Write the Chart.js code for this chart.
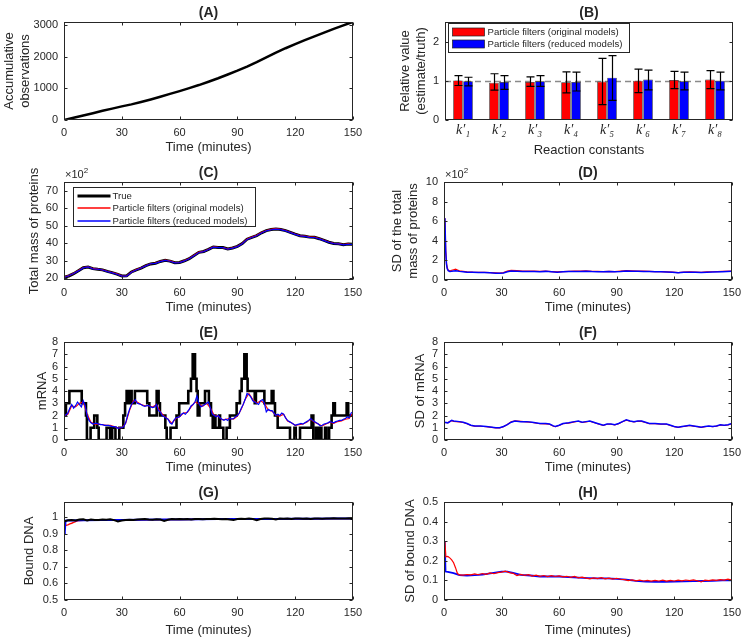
<!DOCTYPE html>
<html lang="en">
<head>
<meta charset="UTF-8" />
<title>Particle filter results</title>
<script src="https://cdn.jsdelivr.net/npm/chart.js@4.4.1/dist/chart.umd.min.js"></script>
<style>
  * { box-sizing: border-box; }
  body { margin: 0; background: #fff; }
  #fig { position: relative; width: 747px; height: 643px; background: #fff; }
  #fig canvas { position: absolute; }
</style>
</head>
<body>
<div id="fig">
  <canvas id="pA" width="373" height="160" style="left:0;top:0"></canvas>
  <canvas id="pB" width="374" height="160" style="left:373px;top:0"></canvas>
  <canvas id="pC" width="373" height="160" style="left:0;top:160px"></canvas>
  <canvas id="pD" width="374" height="160" style="left:373px;top:160px"></canvas>
  <canvas id="pE" width="373" height="160" style="left:0;top:320px"></canvas>
  <canvas id="pF" width="374" height="160" style="left:373px;top:320px"></canvas>
  <canvas id="pG" width="373" height="163" style="left:0;top:480px"></canvas>
  <canvas id="pH" width="374" height="163" style="left:373px;top:480px"></canvas>
</div>
<script>
// ---- data ----
const seriesNames = ['True', 'Particle filters (original models)', 'Particle filters (reduced models)'];
const timeTicks = [0, 30, 60, 90, 120, 150];

// (A) accumulative observations
const obsTime = [0,5,10,15,20,25,30,35,40,45,50,55,60,65,70,75,80,85,90,95,100,105,110,115,120,125,130,135,140,145,150];
const obsCount = [0,70,145,215,290,360,430,495,570,650,735,825,915,1010,1105,1210,1320,1440,1560,1690,1830,1980,2130,2270,2400,2525,2645,2765,2880,2995,3105];

// (B) relative reaction constants
const kLabels = ['k\u2032\u2081','k\u2032\u2082','k\u2032\u2083','k\u2032\u2084','k\u2032\u2085','k\u2032\u2086','k\u2032\u2087','k\u2032\u2088'];
const relOriginal = [1.01, 0.95, 0.97, 0.96, 0.98, 1.00, 1.02, 1.03];
const relOriginalLow = [0.88, 0.76, 0.86, 0.69, 0.39, 0.70, 0.80, 0.80];
const relOriginalHigh = [1.13, 1.18, 1.10, 1.23, 1.57, 1.30, 1.24, 1.26];
const relReduced = [0.99, 0.97, 0.99, 0.97, 1.08, 1.03, 0.99, 1.00];
const relReducedLow = [0.87, 0.78, 0.86, 0.74, 0.50, 0.77, 0.77, 0.77];
const relReducedHigh = [1.09, 1.13, 1.13, 1.22, 1.64, 1.27, 1.22, 1.22];

// (C) total mass of proteins (x10^2)
const proteinTime = [0,2.5,5,7.5,10,12.5,15,17.5,20,22.5, 25,27.5,30,32.5,35,37.5,40,42.5,45,47.5,
  50,52.5,55,57.5,60,62.5,65,67.5,70,72.5, 75,77.5,80,82.5,85,87.5,90,92.5,95,97.5,
  100,102.5,105,107.5,110,112.5,115,117.5,120,122.5, 125,127.5,130,132.5,135,137.5,140,142.5,145,147.5, 150];
const proteinTrue = [20.5,21.3,22.6,24.3,26.0,26.4,25.5,25.1,24.8,23.9, 23.2,22.4,21.3,21.4,23.6,24.8,25.8,27.2,28.2,28.6,
  29.6,30.3,29.8,28.9,29.0,30.0,31.2,33.0,34.8,35.3, 36.5,37.9,37.6,37.6,36.7,37.3,38.2,39.8,42.3,43.4,
  44.4,46.0,47.2,47.8,48.2,47.9,47.2,46.2,45.2,44.3, 44.0,43.5,43.4,42.6,41.6,40.6,39.9,39.7,39.2,39.5, 39.4];
const proteinOriginal = [20.6,21.5,22.8,24.4,26.1,26.5,25.6,25.2,24.8,24.0, 23.3,22.5,21.4,21.3,23.5,24.9,25.9,27.3,28.3,28.7,
  29.7,30.4,29.9,29.0,29.1,30.1,31.3,33.1,34.9,35.4, 36.6,38.0,37.7,37.5,36.8,37.4,38.3,39.9,42.4,43.5,
  44.5,46.1,47.3,47.9,48.3,48.0,47.3,46.3,45.3,44.4, 44.1,43.6,43.5,42.7,41.7,40.7,40.0,39.8,39.3,39.6, 39.5];
const proteinReduced = [20.4,21.4,22.7,24.2,25.9,26.5,25.4,25.2,24.7,23.8, 23.1,22.3,21.2,21.2,23.4,24.7,25.9,27.1,28.3,28.5,
  29.5,30.2,29.7,28.8,28.9,29.9,31.1,32.9,34.7,35.2, 36.4,37.8,37.5,37.5,36.6,37.2,38.1,39.7,42.2,43.3,
  44.3,45.9,47.1,47.7,48.1,47.8,47.1,46.1,45.1,44.2, 43.9,43.4,43.3,42.5,41.5,40.5,39.8,39.6,39.1,39.4, 39.3];

// (D) SD of total mass of proteins (x10^2)
const sdProteinTime = [0,0.5,0.9,1.3,1.7,2.2,3,4,5,6, 7,8,10,12,15,18,21,24,27,29, 31,33,35,38,41,44,47,50,53,56,
  59,62,65,68,71,74,77,80,83,86, 89,92,95,98,101,104,107,110,113,116, 119,122,125,128,131,134,137,140,145,150];
const sdProteinOriginal = [6.3,6.0,3.0,1.7,1.25,1.0,0.92,1.0,1.05,1.1, 1.02,0.93,0.88,0.83,0.8,0.79,0.78,0.76,0.72,0.7,
  0.75,0.9,0.98,0.95,0.92,0.9,0.9,0.88,0.9,0.86, 0.82,0.85,0.88,0.92,0.9,0.93,0.88,0.87,0.85,0.88,
  0.86,0.9,0.95,0.93,0.92,0.9,0.88,0.86,0.85,0.83, 0.8,0.76,0.8,0.82,0.8,0.78,0.82,0.84,0.87,0.92];
const sdProteinReduced = [6.3,6.0,2.9,1.6,1.15,0.95,0.88,0.9,0.93,0.95, 0.92,0.88,0.85,0.8,0.78,0.77,0.76,0.74,0.7,0.68,
  0.72,0.85,0.92,0.9,0.88,0.86,0.87,0.85,0.88,0.84, 0.8,0.83,0.86,0.88,0.87,0.9,0.86,0.85,0.83,0.86,
  0.84,0.87,0.92,0.9,0.89,0.88,0.86,0.85,0.84,0.82, 0.8,0.75,0.78,0.8,0.78,0.76,0.8,0.82,0.85,0.9];

// (E) mRNA: true copy number (step changes) and estimates
const mrnaStepTime = [0,1,2.8,9.2,11.4,11.9,13.8,15.7,17.3,18, 22.1,23.9,25,26.7,28.7,30.8,31.7,32.5,33.1,33.6,
  34.1,34.6,35.1,36.8,43.2,44.3,48.1,49.1,49.8,52.6, 53.3,55.3,58.4,59.8,64.5,65.9,66.8,68,68.8,69.4,
  70.3,73.2,75.2,76.3,77.2,78,78.6,80.5,81,82.7, 84.4,86.1,89.6,91.3,92.2,93.6,94.8,95.3,99,99.6,
  104,107.8,108.7,109.5,110.9,117.3,119.6,120.3,122.5,128.5, 129.4,130.8,131.5,132.8,133.6,135.5,136.2,137.6,138.9,139.8,
  140.6,146.7,147.5,150];
const mrnaTrue = [2,3,4,3,2,0,1,2,1,0, 1,0,1,0,1,2,3,4,3,4,
  3,4,3,4,3,2,4,3,2,1, 0,1,2,3,4,5,7,5,4,2,
  3,4,3,2,1,2,1,2,1,0, 1,2,3,4,5,7,5,4,3,4,
  3,4,3,2,1,0,1,0,1,2, 0,1,0,1,0,1,0,1,2,3,
  2,3,2,2];
const mrnaReducedTime = [0,1,2,3,4,5,6,7,8,9, 10,11,12,13,14,15,16,17,18,19, 20,21,22,23,24,25,26,27,28,29,
  30,31,32,33,34,35,36,37,38,39, 40,41,42,43,44,45,46,47,48,49, 50,51,52,53,54,55,56,57,58,59,
  60,61,62,63,64,65,66,67,68,69, 70,71,72,73,74,75,76,77,78,79, 80,81,82,83,84,85,86,87,88,89,
  90,91,92,93,94,95,96,97,98,99, 100,101,102,103,104,105,106,107,108,109, 110,111,112,113,114,115,116,117,118,119,
  120,121,122,123,124,125,126,127,128,129, 130,131,132,133,134,135,136,137,138,139, 140,141,142,143,144,145,146,147,148,149, 150];
const mrnaReduced = [2.0,2.05,2.2,2.6,2.9,2.6,2.8,3.1,2.9,2.7, 3.2,2.8,2.0,1.6,1.4,1.3,1.35,1.35,1.3,1.25,
  1.25,1.2,1.2,1.2,1.15,1.1,1.1,1.05,0.95,1.0, 1.0,1.1,1.4,2.0,2.5,2.9,3.1,3.3,3.0,2.95,
  2.9,2.8,2.75,2.8,2.8,2.7,2.65,2.7,2.9,2.4, 2.3,2.0,1.9,1.8,1.7,1.4,1.3,1.6,1.8,1.85,
  1.9,2.1,2.2,2.1,2.3,2.5,2.8,2.9,3.1,3.6, 3.0,2.7,2.8,2.9,3.0,3.1,2.6,2.1,2.0,1.9,
  2.0,1.8,1.7,1.6,1.7,1.6,1.8,1.7,1.75,1.9, 2.0,2.2,2.6,2.9,3.3,3.8,3.7,3.5,3.2,3.1,
  3.0,2.9,3.2,3.3,3.0,2.3,2.5,2.4,2.4,2.2, 2.0,2.1,2.0,2.2,2.1,1.8,1.6,1.5,1.4,1.3,
  1.2,1.25,1.3,1.35,1.3,1.4,1.5,1.6,1.75,1.6, 1.5,1.4,1.3,1.15,1.2,1.3,1.35,1.4,1.5,1.45,
  1.4,1.5,1.55,1.6,1.6,1.7,1.75,1.9,1.8,2.2, 2.3];
const mrnaOriginalTime = [0,2,4,6,8,10,12,14,16,18, 20,22,24,26,28,30,32,34,36,38, 40,42,44,46,48,50,52,54,56,58,
  60,62,64,66,68,70,72,74,76,78, 80,82,84,86,88,90,92,94,96,98, 100,102,104,106,108,110,112,114,116,118,
  120,122,124,126,128,130,132,134,136,138, 140,142,144,146,148,150];
const mrnaOriginal = [2.0,2.1,2.8,2.7,3.0,3.1,2.1,1.45,1.3,1.3, 1.25,1.2,1.2,1.1,1.0,1.0,1.35,2.4,3.2,3.1,
  2.9,2.8,2.8,2.7,2.9,2.3,1.95,1.7,1.35,1.75, 1.9,2.2,2.25,2.7,3.1,2.95,2.75,3.0,2.6,2.0,
  1.95,1.65,1.7,1.75,1.7,1.95,2.5,3.3,3.8,3.3, 3.0,3.2,3.0,2.45,2.35,2.0,1.95,2.1,1.55,1.4,
  1.2,1.25,1.3,1.45,1.7,1.45,1.3,1.15,1.3,1.45, 1.35,1.5,1.55,1.7,1.75,2.25];

// (F) SD of mRNA
const sdMrnaTime = [0,2,4,5,8,10,12,14,16,19, 22,25,27,29,31,33,35,37,40,43, 46,50,53,55,57,58,60,62,65,68,
  70,72,74,76,78,80,83,85,87,89, 91,93,95,97,99,101,103,105,107,110, 113,116,118,120,122,124,126,128,130,132,
  134,136,138,140,142,144,146,148,150];
const sdMrnaOriginal = [1.43,1.42,1.58,1.52,1.48,1.43,1.33,1.18,1.13,1.12, 1.08,1.03,0.98,0.98,1.08,1.27,1.48,1.57,1.52,1.48,
  1.43,1.33,1.32,1.28,1.12,1.08,1.18,1.33,1.38,1.48, 1.53,1.43,1.48,1.53,1.43,1.33,1.18,1.28,1.28,1.23,
  1.33,1.48,1.62,1.53,1.48,1.53,1.52,1.43,1.33,1.33, 1.28,1.28,1.18,1.08,1.03,1.08,1.13,1.18,1.13,1.08,
  1.03,1.08,1.12,1.08,1.13,1.22,1.18,1.23,1.32];
const sdMrnaReduced = [1.45,1.4,1.6,1.55,1.5,1.45,1.35,1.2,1.15,1.15, 1.1,1.05,1.0,1.0,1.1,1.25,1.45,1.55,1.5,1.5,
  1.45,1.35,1.35,1.3,1.15,1.1,1.2,1.35,1.4,1.5, 1.55,1.45,1.5,1.55,1.45,1.35,1.2,1.3,1.3,1.25,
  1.35,1.5,1.65,1.55,1.5,1.55,1.55,1.45,1.35,1.35, 1.3,1.3,1.2,1.1,1.05,1.1,1.15,1.2,1.15,1.1,
  1.05,1.1,1.15,1.1,1.15,1.25,1.2,1.25,1.35];

// (G) bound DNA
const dnaTrueTime = [0,2,4,6,8,10,12,14,16,18, 20,22,24,26,28,30,32,34,36,38, 40,42,44,46,48,50,52,54,56,58,
  60,62,64,66,68,70,72,74,76,78, 80,82,84,86,88,90,92,94,96,98, 100,102,104,106,108,110,112,114,116,118,
  120,122,124,126,128,130,132,134,136,138, 140,142,144,146,148,150];
const dnaTrue = [0.972,0.98,0.982,0.979,0.984,0.986,0.979,0.985,0.982,0.981, 0.985,0.983,0.986,0.981,0.973,0.978,0.981,0.983,0.982,0.984,
  0.986,0.987,0.984,0.983,0.986,0.984,0.976,0.983,0.987,0.986, 0.988,0.986,0.987,0.985,0.988,0.987,0.986,0.988,0.987,0.989,
  0.988,0.986,0.988,0.984,0.981,0.987,0.989,0.988,0.99,0.987, 0.981,0.988,0.99,0.991,0.989,0.985,0.99,0.989,0.99,0.988,
  0.99,0.991,0.989,0.99,0.988,0.991,0.99,0.989,0.991,0.99, 0.992,0.99,0.991,0.99,0.992,0.986];
const dnaOriginalTime = [0.4,1,2,3,4,5,6,7,8,10, 15,20,30,40,50,60,70,80,90,100, 110,120,130,140,150];
const dnaOriginal = [0.948,0.95,0.952,0.958,0.962,0.967,0.972,0.976,0.979,0.98, 0.981,0.981,0.982,0.983,0.984,0.985,0.986,0.986,0.987,0.987,
  0.988,0.989,0.989,0.99,0.99];
const dnaReducedTime = [0,0.4,0.8,3,10,20,30,40,50,60, 70,80,90,100,110,120,130,140,150];
const dnaReduced = [0.90,0.91,0.978,0.979,0.98,0.981,0.982,0.983,0.984,0.985, 0.986,0.987,0.987,0.988,0.988,0.989,0.989,0.99,0.99];

// (H) SD of bound DNA
const sdDnaOriginalTime = [0,0.5,1,2,3,4,5,6,7,8, 10,12,14,16,18,20,22,24,26,28, 30,32,34,36,38,40,42,44,46,48,
  50,52,54,56,58,60,62,64,66,68, 70,72,74,76,78,80,82,84,86,88, 90,92,94,96,98,100,102,104,106,108,
  110,112,114,116,118,120,122,124,126,128, 130,132,134,136,138,140,142,144,146,148, 150];
const sdDnaOriginal = [0.30,0.29,0.22,0.222,0.215,0.205,0.19,0.165,0.135,0.128, 0.127,0.13,0.128,0.133,0.129,0.135,0.131,0.138,0.134,0.14,
  0.142,0.147,0.14,0.136,0.125,0.131,0.126,0.129,0.122,0.127, 0.121,0.125,0.119,0.124,0.12,0.123,0.118,0.121,0.116,0.12,
  0.113,0.117,0.112,0.108,0.113,0.109,0.114,0.108,0.112,0.107, 0.111,0.106,0.104,0.099,0.103,0.098,0.101,0.097,0.1,0.096,
  0.1,0.097,0.101,0.096,0.1,0.097,0.101,0.098,0.102,0.099, 0.103,0.098,0.092,0.101,0.099,0.103,0.1,0.104,0.101,0.106,
  0.102];
const sdDnaReducedTime = [0,0.4,0.8,2,5,8,12,16,20,25, 30,33,36,40,45,50,55,60,65,70, 75,80,85,90,95,100,105,110,115,120, 125,130,135,140,145,150];
const sdDnaReduced = [0.30,0.29,0.145,0.143,0.137,0.127,0.125,0.127,0.13,0.137, 0.145,0.145,0.138,0.128,0.125,0.12,0.12,0.12,0.117,0.114,
  0.112,0.11,0.11,0.108,0.104,0.098,0.094,0.092,0.092,0.094, 0.095,0.096,0.097,0.098,0.1,0.1];

// ---- look ----
const INK = '#262626';
const RED = 'rgb(255,0,0)';
const BLUE = 'rgb(0,0,255)';
const FONT = '"Liberation Sans", Arial, Helvetica, sans-serif';
const TICK_SIZE = 11;
const LABEL_SIZE = 13;

Chart.defaults.font.family = FONT;
Chart.defaults.color = INK;
Chart.defaults.animation = false;
Chart.defaults.plugins.legend.display = false;
Chart.defaults.plugins.tooltip.enabled = false;
Chart.defaults.elements.point.radius = 0;
Chart.defaults.elements.line.tension = 0;

// per-canvas extras: panel letter, legend box, exponent, error bars
const extras = {};

function drawBox(chart, ex) {
  const { ctx, chartArea: a } = chart;
  const L = Math.round(a.left) + 0.5, R = Math.round(a.right) - 0.5;
  const T = Math.round(a.top) + 0.5, B = Math.round(a.bottom) - 0.5;
  const tl = 3;
  ctx.save();
  ctx.strokeStyle = INK;
  ctx.lineWidth = 1;
  ctx.strokeRect(L, T, R - L, B - T);
  ctx.beginPath();
  if (!ex.noXTicks) {
    chart.scales.x.ticks.forEach(t => {
      const x = Math.round(chart.scales.x.getPixelForValue(t.value)) + 0.5;
      ctx.moveTo(x, B); ctx.lineTo(x, B - tl);
      ctx.moveTo(x, T); ctx.lineTo(x, T + tl);
    });
  }
  chart.scales.y.ticks.forEach(t => {
    const y = Math.round(chart.scales.y.getPixelForValue(t.value)) + 0.5;
    ctx.moveTo(L, y); ctx.lineTo(L + tl, y);
    ctx.moveTo(R, y); ctx.lineTo(R - tl, y);
  });
  ctx.stroke();
  ctx.restore();
}

function drawLegend(chart, lg) {
  const { ctx, chartArea: a } = chart;
  const x0 = Math.round(a.left + lg.x) + 0.5, y0 = Math.round(a.top + lg.y) + 0.5;
  ctx.save();
  ctx.fillStyle = '#fff';
  ctx.fillRect(x0, y0, lg.w, lg.h);
  ctx.strokeStyle = INK;
  ctx.lineWidth = 1;
  ctx.strokeRect(x0, y0, lg.w, lg.h);
  ctx.font = '9.6px ' + FONT;
  ctx.textBaseline = 'middle';
  ctx.textAlign = 'left';
  lg.rows.forEach((r, i) => {
    const cy = Math.round(y0 + lg.first + i * lg.step);
    if (r.kind === 'bar') {
      ctx.fillStyle = r.color;
      ctx.fillRect(x0 + 4, cy - 4, 32, 8);
      ctx.strokeStyle = '#222';
      ctx.lineWidth = 0.7;
      ctx.strokeRect(x0 + 4, cy - 4, 32, 8);
    } else {
      ctx.strokeStyle = r.color;
      ctx.lineWidth = r.width;
      ctx.beginPath();
      ctx.moveTo(x0 + 4, cy); ctx.lineTo(x0 + 37, cy);
      ctx.stroke();
    }
    ctx.fillStyle = INK;
    ctx.fillText(r.label, x0 + 39, cy);
  });
  ctx.restore();
}

const matlabLook = {
  id: 'matlabLook',
  beforeDatasetsDraw(chart) {
    const ex = extras[chart.canvas.id];
    if (!ex || ex.refLine === undefined) return;
    const { ctx, chartArea: a } = chart;
    const y = Math.round(chart.scales.y.getPixelForValue(ex.refLine)) + 0.5;
    ctx.save();
    ctx.strokeStyle = '#8a8a8a';
    ctx.lineWidth = 1.3;
    ctx.setLineDash([6, 4]);
    ctx.beginPath();
    ctx.moveTo(a.left, y); ctx.lineTo(a.right, y);
    ctx.stroke();
    ctx.restore();
  },
  afterDatasetsDraw(chart) {
    const ex = extras[chart.canvas.id];
    if (!ex || !ex.errors) return;
    const { ctx } = chart;
    const ys = chart.scales.y;
    ctx.save();
    ctx.strokeStyle = '#000';
    ctx.lineWidth = 1.2;
    ex.errors.forEach(e => {
      chart.getDatasetMeta(e.dataset).data.forEach((bar, j) => {
        const x = Math.round(bar.x) + 0.5;
        const lo = ys.getPixelForValue(e.low[j]), hi = ys.getPixelForValue(e.high[j]);
        ctx.beginPath();
        ctx.moveTo(x, lo); ctx.lineTo(x, hi);
        ctx.moveTo(x - 4, lo); ctx.lineTo(x + 4, lo);
        ctx.moveTo(x - 4, hi); ctx.lineTo(x + 4, hi);
        ctx.stroke();
      });
    });
    ctx.restore();
  },
  afterDraw(chart) {
    const ex = extras[chart.canvas.id];
    if (!ex) return;
    const { ctx, chartArea: a } = chart;
    drawBox(chart, ex);
    ctx.save();
    ctx.fillStyle = INK;
    ctx.font = 'bold 14px ' + FONT;
    ctx.textAlign = 'center';
    ctx.textBaseline = 'middle';
    ctx.fillText(ex.title, (a.left + a.right) / 2, a.top - 9);
    if (ex.exponent) {
      ctx.textAlign = 'left';
      ctx.textBaseline = 'alphabetic';
      ctx.font = '11px ' + FONT;
      ctx.fillText('\u00d710', a.left + 1, a.top - 4);
      const w = ctx.measureText('\u00d710').width;
      ctx.font = '8px ' + FONT;
      ctx.fillText(ex.exponent, a.left + 1 + w, a.top - 9);
    }
    ctx.restore();
    if (ex.legend) drawLegend(chart, ex.legend);
  }
};
Chart.register(matlabLook);

// ---- axes helpers ----
function timeScale(axisHeight) {
  return {
    type: 'linear', min: 0, max: 150,
    grid: { display: false, drawTicks: false },
    border: { display: false },
    ticks: { autoSkip: false, maxRotation: 0, padding: 6, font: { size: TICK_SIZE }, callback: v => String(v) },
    afterBuildTicks: s => { s.ticks = timeTicks.map(v => ({ value: v })); },
    afterFit: s => { s.height = axisHeight; },
    title: { display: true, text: 'Time (minutes)', font: { size: LABEL_SIZE }, padding: { top: 0, bottom: 5 } }
  };
}

function valueScale(min, max, ticks, label, titlePad, axisWidth) {
  return {
    type: 'linear', min: min, max: max,
    grid: { display: false, drawTicks: false },
    border: { display: false },
    ticks: { autoSkip: false, padding: 6, font: { size: TICK_SIZE }, callback: v => String(v) },
    afterBuildTicks: s => { s.ticks = ticks.map(v => ({ value: v })); },
    afterFit: s => { s.width = axisWidth; },
    title: { display: true, text: label, font: { size: LABEL_SIZE }, padding: { top: titlePad, bottom: 0 } }
  };
}

function pts(xs, ys) {
  return xs.map((x, i) => ({ x: x, y: ys[i] }));
}

function line(data, color, width, extra) {
  return Object.assign({ data: data, borderColor: color, borderWidth: width, fill: false }, extra || {});
}

function timeChart(id, datasets, yScale, rightPad, axisHeight) {
  return new Chart(document.getElementById(id), {
    type: 'line',
    data: { datasets: datasets },
    options: {
      responsive: false,
      devicePixelRatio: 1,
      layout: { padding: { left: 0, right: rightPad, top: 22, bottom: 0 } },
      scales: { x: timeScale(axisHeight), y: yScale }
    }
  });
}

// ---- panels ----
extras.pA = { title: '(A)' };
timeChart('pA', [
  line(pts(obsTime, obsCount), '#000', 2.5)
], valueScale(0, 3100, [0, 1000, 2000, 3000], ['Accumulative', 'observations'], 2, 64), 20, 40);

extras.pB = {
  title: '(B)', noXTicks: true, refLine: 1,
  errors: [
    { dataset: 0, low: relOriginalLow, high: relOriginalHigh },
    { dataset: 1, low: relReducedLow, high: relReducedHigh }
  ],
  legend: { x: 3, y: 1, w: 181, h: 29, first: 8, step: 12.5, rows: [
    { kind: 'bar', color: RED, label: seriesNames[1] },
    { kind: 'bar', color: BLUE, label: seriesNames[2] }
  ] }
};
new Chart(document.getElementById('pB'), {
  type: 'bar',
  data: {
    labels: kLabels,
    datasets: [
      { label: seriesNames[1], data: relOriginal, backgroundColor: RED, borderColor: '#222', borderWidth: 0.7,
        categoryPercentage: 0.56, barPercentage: 0.95 },
      { label: seriesNames[2], data: relReduced, backgroundColor: BLUE, borderColor: '#222', borderWidth: 0.7,
        categoryPercentage: 0.56, barPercentage: 0.95 }
    ]
  },
  options: {
    responsive: false,
    devicePixelRatio: 1,
    layout: { padding: { left: 0, right: 14, top: 22, bottom: 0 } },
    scales: {
      x: {
        type: 'category',
        grid: { display: false, drawTicks: false },
        border: { display: false },
        ticks: { autoSkip: false, maxRotation: 0, padding: 2,
          font: { family: '"Liberation Serif", "DejaVu Serif", serif', style: 'italic', size: 14 } },
        afterFit: s => { s.height = 40; },
        title: { display: true, text: 'Reaction constants', font: { size: LABEL_SIZE }, padding: { top: 0, bottom: 2 } }
      },
      y: valueScale(0, 2.5, [0, 1, 2], ['Relative value', '(estimate/truth)'], 25, 72)
    }
  }
});

extras.pC = {
  title: '(C)', exponent: '2',
  legend: { x: 9, y: 5, w: 182, h: 39, first: 8, step: 12.8, rows: [
    { kind: 'line', color: '#000', width: 3, label: seriesNames[0] },
    { kind: 'line', color: RED, width: 1.5, label: seriesNames[1] },
    { kind: 'line', color: BLUE, width: 1.5, label: seriesNames[2] }
  ] }
};
timeChart('pC', [
  line(pts(proteinTime, proteinReduced), BLUE, 1.2),
  line(pts(proteinTime, proteinOriginal), RED, 1.2),
  line(pts(proteinTime, proteinTrue), '#000', 3)
], valueScale(19, 75, [20, 30, 40, 50, 60, 70], 'Total mass of proteins', 27, 64), 20, 40);

extras.pD = { title: '(D)', exponent: '2' };
timeChart('pD', [
  line(pts(sdProteinTime, sdProteinReduced), BLUE, 1.5),
  line(pts(sdProteinTime, sdProteinOriginal), RED, 1.2)
], valueScale(0, 10, [0, 2, 4, 6, 8, 10], ['SD of the total', 'mass of proteins'], 17, 71), 15, 40);

extras.pE = { title: '(E)' };
timeChart('pE', [
  line(pts(mrnaReducedTime, mrnaReduced), BLUE, 1.2),
  line(pts(mrnaOriginalTime, mrnaOriginal), RED, 1.1),
  line(pts(mrnaStepTime, mrnaTrue), '#000', 2.6, { stepped: true, borderJoinStyle: 'miter' })
], valueScale(0, 8, [0, 1, 2, 3, 4, 5, 6, 7, 8], 'mRNA', 35, 64), 20, 40);

extras.pF = { title: '(F)' };
timeChart('pF', [
  line(pts(sdMrnaTime, sdMrnaReduced), BLUE, 1.5),
  line(pts(sdMrnaTime, sdMrnaOriginal), RED, 1.1)
], valueScale(0, 8, [0, 1, 2, 3, 4, 5, 6, 7, 8], 'SD of mRNA', 40, 71), 15, 40);

extras.pG = { title: '(G)' };
timeChart('pG', [
  line(pts(dnaTrueTime, dnaTrue), '#000', 2),
  line(pts(dnaReducedTime, dnaReduced), BLUE, 2),
  line(pts(dnaOriginalTime, dnaOriginal), RED, 1.4)
], valueScale(0.5, 1.09, [0.5, 0.6, 0.7, 0.8, 0.9, 1], 'Bound DNA', 22, 64), 20, 43);

extras.pH = { title: '(H)' };
timeChart('pH', [
  line(pts(sdDnaOriginalTime, sdDnaOriginal), RED, 1.2),
  line(pts(sdDnaReducedTime, sdDnaReduced), BLUE, 1.8)
], valueScale(0, 0.5, [0, 0.1, 0.2, 0.3, 0.4, 0.5], 'SD of bound DNA', 30, 71), 15, 43);
</script>
</body>
</html>
